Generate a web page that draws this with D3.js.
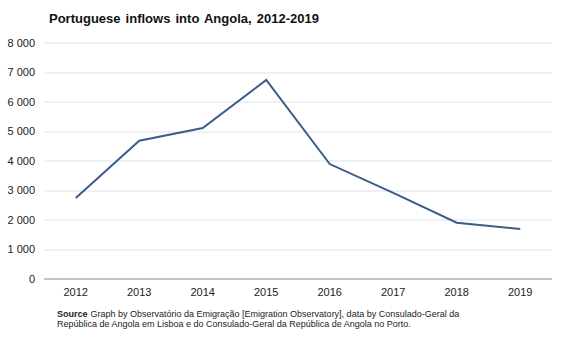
<!DOCTYPE html>
<html>
<head>
<meta charset="utf-8">
<script src="https://cdn.jsdelivr.net/npm/d3@7"></script>
<style>
  body { margin: 0; background: #fff; }
  svg { font-family: Arial, "Liberation Sans", sans-serif; }
</style>
</head>
<body>
<div id="chart"></div>
<script>
// Portuguese inflows into Angola, per year
var years = ["2012", "2013", "2014", "2015", "2016", "2017", "2018", "2019"];
var inflows = [2730, 4670, 5100, 6730, 3880, 2900, 1890, 1680];
var yTicks = [0, 1000, 2000, 3000, 4000, 5000, 6000, 7000, 8000];

var data = years.map(function(y, i) { return { year: y, value: inflows[i] }; });

var W = 567, H = 340;
var margin = { top: 42.5, right: 15, bottom: 61.5, left: 44 };
var width = W - margin.left - margin.right;
var height = H - margin.top - margin.bottom;

var svg = d3.select("#chart").append("svg")
    .attr("width", W)
    .attr("height", H);

var g = svg.append("g")
    .attr("transform", "translate(" + margin.left + "," + margin.top + ")");

var x = d3.scaleBand().domain(years).range([0, width]);
var y = d3.scaleLinear().domain([0, 8000]).range([height, 0]);

// Horizontal gridlines
g.selectAll(".grid")
    .data(yTicks.filter(function(d) { return d > 0; }))
    .enter().append("line")
    .attr("x1", 0)
    .attr("x2", width)
    .attr("y1", function(d) { return Math.round(y(d)) + 0.5; })
    .attr("y2", function(d) { return Math.round(y(d)) + 0.5; })
    .attr("stroke", "#dde3ea")
    .attr("stroke-width", 1);

// Baseline
g.append("line")
    .attr("x1", 0)
    .attr("x2", width)
    .attr("y1", Math.round(y(0)) + 0.5)
    .attr("y2", Math.round(y(0)) + 0.5)
    .attr("stroke", "#8a8a8a")
    .attr("stroke-width", 1);

// Y labels, thousands separated by a space
var fmt = function(d) { return d3.format(",")(d).replace(/,/g, " "); };
g.selectAll(".ylab")
    .data(yTicks)
    .enter().append("text")
    .attr("x", -9)
    .attr("y", function(d) { return y(d) + 4; })
    .attr("text-anchor", "end")
    .attr("font-size", "11px")
    .attr("fill", "#222")
    .text(fmt);

// X labels
g.selectAll(".xlab")
    .data(years)
    .enter().append("text")
    .attr("x", function(d) { return x(d) + x.bandwidth() / 2; })
    .attr("y", height + 17.5)
    .attr("text-anchor", "middle")
    .attr("font-size", "11px")
    .attr("fill", "#222")
    .text(function(d) { return d; });

// The line
var line = d3.line()
    .x(function(d) { return x(d.year) + x.bandwidth() / 2; })
    .y(function(d) { return y(d.value); });

g.append("path")
    .datum(data)
    .attr("fill", "none")
    .attr("stroke", "#3b5d86")
    .attr("stroke-width", 2)
    .attr("stroke-linejoin", "miter")
    .attr("d", line);

// Title
svg.append("text")
    .attr("x", 49)
    .attr("y", 23)
    .attr("font-size", "13px")
    .attr("font-weight", "bold")
    .attr("fill", "#111")
    .attr("word-spacing", "1.5px")
    .text("Portuguese inflows into Angola, 2012-2019");

// Source note
var note = svg.append("text")
    .attr("x", 57)
    .attr("y", 317)
    .attr("font-size", "9px")
    .attr("fill", "#222");
note.append("tspan")
    .attr("font-weight", "bold")
    .text("Source");
note.append("tspan")
    .attr("dx", 3)
    .text("Graph by Observatório da Emigração [Emigration Observatory], data by Consulado-Geral da");
svg.append("text")
    .attr("x", 57)
    .attr("y", 327)
    .attr("font-size", "9px")
    .attr("fill", "#222")
    .text("República de Angola em Lisboa e do Consulado-Geral da República de Angola no Porto.");
</script>
</body>
</html>
